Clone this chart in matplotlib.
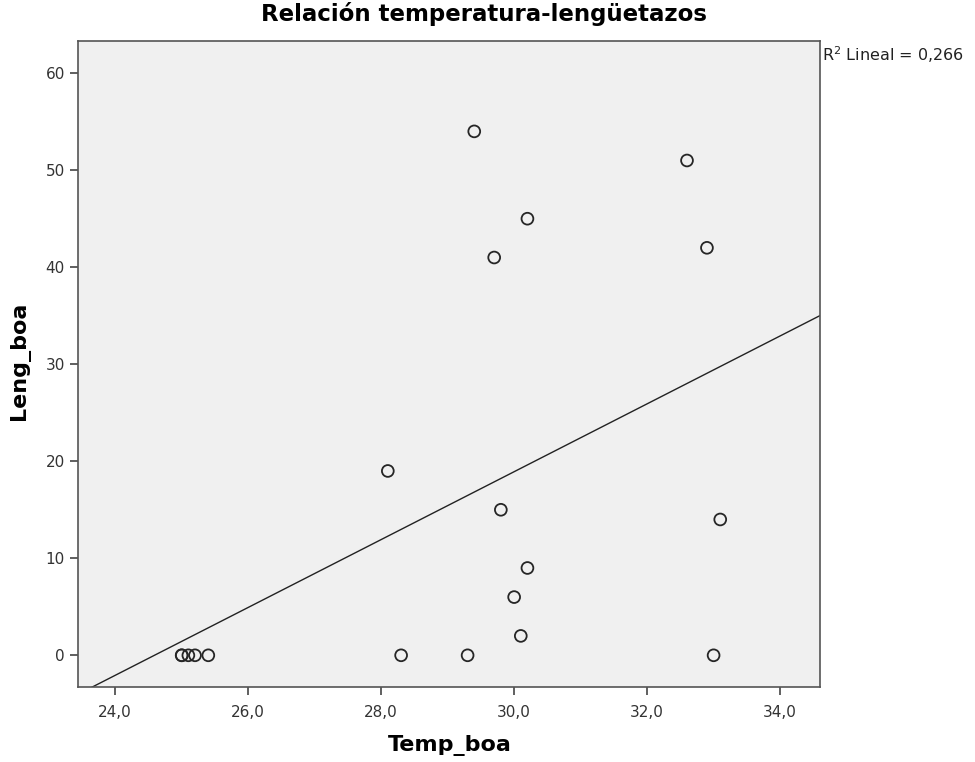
import numpy as np
import matplotlib
matplotlib.use('Agg')
import matplotlib.pyplot as plt

# datos
temp_boa = [25.0, 25.0, 25.1, 25.2, 25.4, 28.1, 28.3, 29.3, 29.4, 29.7, 29.8,
            30.0, 30.1, 30.2, 30.2, 32.6, 32.9, 33.0, 33.1]
leng_boa = [0, 0, 0, 0, 0, 19, 0, 0, 54, 41, 15,
            6, 2, 45, 9, 51, 42, 0, 14]
x_ticks = [24.0, 26.0, 28.0, 30.0, 32.0, 34.0]
y_ticks = [0, 10, 20, 30, 40, 50, 60]
r2_text = 'R$^2$ Lineal = 0,266'

plt.rcParams['font.family'] = ['DejaVu Sans']

fig = plt.figure(figsize=(9.75, 7.62), dpi=100)
ax = fig.add_axes([0.080, 0.098, 0.761, 0.848])
ax.set_facecolor('#f0f0f0')

ax.scatter(temp_boa, leng_boa, s=72, facecolors='none', edgecolors='#262626',
           linewidths=1.3, zorder=3)

# recta de ajuste
xl = (23.44, 34.6)
b, a = np.polyfit(temp_boa, leng_boa, 1)
xs = np.array(xl)
ax.plot(xs, a + b * xs, color='#222222', linewidth=1.0, zorder=2)

ax.set_xlim(xl)
ax.set_ylim(-3.3, 63.3)
ax.set_xticks(x_ticks)
ax.set_xticklabels([('%.1f' % v).replace('.', ',') for v in x_ticks])
ax.set_yticks(y_ticks)

for s in ax.spines.values():
    s.set_color('#555555')
    s.set_linewidth(1.2)
ax.tick_params(direction='out', length=6, width=1.2, color='#444444',
               labelsize=11, labelcolor='#333333', top=False, right=False)
ax.tick_params(axis='x', pad=7)

# titulo y etiquetas
fig.text(0.496, 0.981, 'Relación temperatura-lengüetazos', fontsize=16.5,
         fontweight='bold', ha='center', va='center')
fig.text(0.461, 0.021, 'Temp_boa', fontsize=16, fontweight='bold', ha='center', va='center')
fig.text(0.0205, 0.526, 'Leng_boa', fontsize=16, fontweight='bold', ha='center',
         va='center', rotation=90)

fig.text(0.843, 0.928, r2_text, fontsize=11.5, color='#222222', ha='left', va='center')

fig.savefig('out.png', dpi=100, facecolor='white')
